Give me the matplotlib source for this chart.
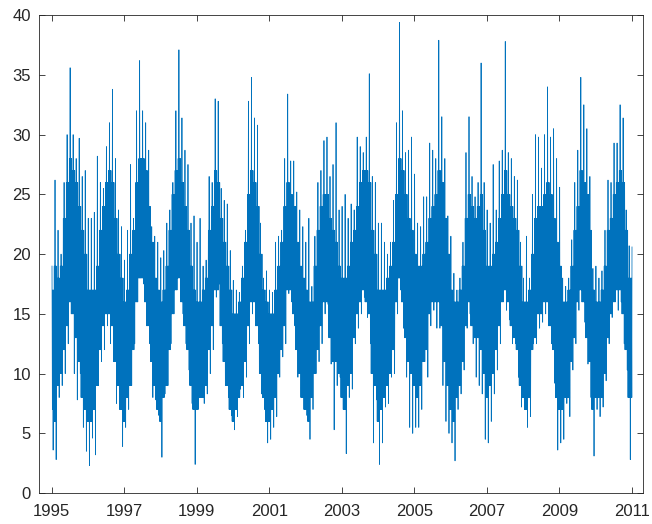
import matplotlib
matplotlib.use("Agg")
import matplotlib.pyplot as plt
import numpy as np


YEARS = list(range(1995, 2011))

# monthly peak values, one row per year (Jan..Dec)
MONTHLY_HIGH = [
    [19.0, 26.2, 22.0, 20.0, 26.0, 30.0, 35.6, 30.0, 28.0, 29.7, 26.5, 27.0],  # 1995
    [23.0, 23.0, 23.5, 28.2, 26.0, 25.5, 29.0, 31.0, 33.8, 28.0, 23.7, 22.3],  # 1996
    [19.5, 22.0, 27.5, 23.0, 32.0, 36.2, 32.0, 31.0, 28.7, 22.3, 21.5, 21.0],  # 1997
    [19.7, 20.3, 22.6, 23.7, 26.0, 32.0, 37.1, 31.4, 28.7, 27.5, 22.6, 23.2],  # 1998
    [21.0, 23.0, 19.0, 19.5, 26.5, 26.0, 33.0, 32.8, 25.5, 24.5, 24.2, 20.3],  # 1999
    [17.8, 17.0, 16.8, 19.0, 22.0, 32.8, 34.8, 31.4, 30.8, 22.6, 18.0, 18.6],  # 2000
    [17.0, 16.8, 21.0, 21.5, 22.0, 28.0, 33.4, 27.8, 27.8, 25.2, 23.7, 22.3],  # 2001
    [21.0, 23.0, 17.3, 21.5, 26.0, 27.0, 29.5, 29.8, 26.5, 27.5, 31.0, 23.7],  # 2002
    [24.0, 25.0, 23.0, 24.2, 23.7, 29.8, 29.0, 28.5, 29.8, 35.1, 26.5, 26.0],  # 2003
    [22.6, 22.6, 21.0, 20.0, 21.0, 24.5, 31.0, 39.4, 32.0, 28.5, 28.7, 29.8],  # 2004
    [26.7, 22.6, 22.3, 24.8, 24.8, 29.3, 28.7, 28.0, 37.9, 31.5, 28.0, 23.2],  # 2005
    [21.5, 18.4, 17.0, 18.0, 21.0, 28.5, 31.5, 26.5, 24.8, 26.0, 36.0, 26.0],  # 2006
    [23.7, 22.6, 27.5, 23.7, 27.8, 28.7, 37.8, 28.5, 28.0, 26.5, 26.2, 21.0],  # 2007
    [18.0, 21.5, 18.0, 25.0, 30.0, 29.8, 27.2, 30.0, 34.0, 29.8, 30.5, 28.0],  # 2008
    [25.6, 18.0, 17.3, 18.0, 21.2, 26.0, 28.7, 34.8, 32.5, 30.5, 26.5, 18.8],  # 2009
    [19.0, 18.0, 18.6, 22.0, 26.2, 26.0, 29.3, 29.3, 32.5, 31.4, 23.7, 20.7],  # 2010
]

# monthly dips
MONTHLY_LOW = [
    [3.6, 2.8, 8.0, 9.0, 10.0, 12.5, 15.0, 10.0, 7.8, 10.0, 5.5, 3.5],  # 1995
    [2.3, 4.6, 3.2, 9.0, 11.0, 12.0, 14.0, 12.5, 11.0, 7.5, 7.0, 3.9],  # 1996
    [5.5, 7.0, 9.0, 12.5, 16.0, 18.0, 17.5, 14.0, 12.5, 8.0, 7.8, 6.5],  # 1997
    [3.0, 8.3, 9.0, 12.5, 15.0, 17.0, 18.6, 15.0, 12.5, 10.3, 7.5, 2.4],  # 1998
    [7.0, 8.0, 7.5, 8.3, 10.0, 12.0, 16.4, 17.5, 12.5, 9.0, 8.0, 6.5],  # 1999
    [5.3, 6.4, 8.7, 8.0, 9.7, 12.5, 15.0, 14.0, 12.5, 8.3, 7.0, 4.2],  # 2000
    [4.5, 5.5, 6.4, 9.7, 11.4, 12.5, 16.7, 16.0, 14.0, 9.7, 8.0, 7.0],  # 2001
    [6.5, 4.5, 7.0, 10.0, 11.0, 12.5, 15.0, 15.8, 10.8, 5.3, 9.0, 9.7],  # 2002
    [7.0, 3.3, 8.0, 8.7, 12.5, 13.8, 15.0, 16.4, 14.7, 12.5, 4.2, 7.8],  # 2003
    [2.4, 4.2, 7.2, 7.5, 9.7, 10.0, 15.0, 17.0, 13.8, 9.7, 5.5, 5.0],  # 2004
    [5.5, 5.5, 7.0, 11.0, 9.7, 14.0, 15.3, 13.8, 13.8, 9.0, 6.0, 5.0],  # 2005
    [4.2, 2.7, 7.0, 8.3, 10.3, 13.8, 15.0, 12.5, 9.7, 9.0, 8.3, 4.5],  # 2006
    [4.2, 6.0, 8.3, 10.3, 12.5, 16.0, 15.3, 14.5, 12.5, 12.5, 9.7, 7.2],  # 2007
    [7.0, 5.5, 6.4, 12.5, 12.5, 13.8, 14.3, 15.0, 14.0, 12.5, 9.2, 3.6],  # 2008
    [4.2, 4.5, 7.5, 6.4, 10.3, 12.5, 15.3, 16.0, 14.3, 10.8, 8.0, 3.1],  # 2009
    [7.0, 6.4, 7.2, 9.4, 12.5, 14.7, 16.0, 15.3, 16.0, 12.5, 10.3, 2.8],  # 2010
]

# upper / lower edge of the dense core of the band
CORE_HIGH = [
    [17, 19, 18, 19, 23, 26, 28, 27, 26, 24, 22, 20],  # 1995
    [17, 17, 17, 19, 22, 24, 26, 27, 26, 23, 20, 18],  # 1996
    [16, 17, 20, 22, 26, 28, 28, 27, 24, 21, 18, 17],  # 1997
    [16, 17, 19, 22, 25, 27, 28, 26, 24, 22, 19, 17],  # 1998
    [16, 16, 17, 18, 22, 24, 27, 26, 23, 21, 19, 17],  # 1999
    [15, 15, 16, 18, 21, 25, 27, 26, 24, 20, 17, 16],  # 2000
    [15, 15, 17, 19, 21, 24, 26, 25, 24, 21, 19, 18],  # 2001
    [17, 16, 16, 19, 22, 24, 25, 25, 23, 22, 21, 19],  # 2002
    [18, 18, 19, 21, 22, 24, 26, 27, 27, 26, 22, 20],  # 2003
    [17, 17, 17, 18, 19, 21, 25, 28, 27, 25, 23, 22],  # 2004
    [20, 19, 19, 20, 21, 23, 24, 25, 27, 26, 23, 20],  # 2005
    [17, 16, 16, 17, 19, 23, 25, 24, 23, 24, 25, 22],  # 2006
    [19, 19, 20, 21, 23, 25, 27, 25, 24, 23, 22, 19],  # 2007
    [16, 16, 17, 20, 23, 24, 24, 25, 26, 25, 23, 21],  # 2008
    [19, 16, 16, 17, 19, 22, 24, 27, 26, 25, 22, 17],  # 2009
    [16, 16, 17, 19, 22, 23, 25, 26, 27, 26, 22, 18],  # 2010
]

CORE_LOW = [
    [7, 6, 9, 10, 12, 14, 16, 15, 13, 11, 8, 7],  # 1995
    [6, 6, 7, 9, 12, 14, 15, 15, 14, 11, 9, 7],  # 1996
    [6, 8, 9, 12, 16, 18, 18, 16, 14, 11, 9, 7],  # 1997
    [6, 8, 9, 12, 15, 17, 18, 16, 14, 12, 9, 7],  # 1998
    [7, 8, 8, 9, 12, 14, 17, 17, 14, 11, 9, 7],  # 1999
    [6, 7, 8, 9, 11, 14, 16, 16, 14, 10, 8, 6],  # 2000
    [6, 7, 8, 10, 12, 14, 17, 17, 15, 12, 10, 8],  # 2001
    [7, 6, 8, 10, 12, 14, 16, 16, 13, 11, 11, 10],  # 2002
    [8, 7, 9, 10, 13, 15, 16, 17, 16, 15, 10, 9],  # 2003
    [6, 7, 8, 9, 10, 12, 16, 18, 16, 13, 11, 10],  # 2004
    [9, 8, 9, 11, 12, 15, 16, 16, 16, 14, 11, 9],  # 2005
    [7, 6, 8, 9, 11, 14, 16, 14, 13, 13, 12, 10],  # 2006
    [8, 9, 10, 12, 14, 16, 17, 16, 14, 13, 12, 9],  # 2007
    [8, 7, 8, 12, 13, 15, 15, 16, 16, 14, 12, 8],  # 2008
    [7, 7, 8, 8, 11, 13, 16, 17, 16, 13, 11, 7],  # 2009
    [8, 8, 8, 10, 13, 15, 16, 17, 17, 15, 12, 8],  # 2010
]

LAST_VALUE = 20.6

XTICKS = [1995, 1997, 1999, 2001, 2003, 2005, 2007, 2009, 2011]
YTICKS = [0, 5, 10, 15, 20, 25, 30, 35, 40]

LINE_COLOR = "#0072BD"
AXIS_COLOR = "#262626"


def build_series():
    hi = np.ravel(MONTHLY_HIGH)
    lo = np.ravel(MONTHLY_LOW)
    c_hi = np.ravel(CORE_HIGH)
    c_lo = np.ravel(CORE_LOW)
    n = len(hi)
    t = []
    v = []
    for i in range(n):
        j = min(i + 1, n - 1)
        # one peak and one dip per month, the core swings lean into the next month
        month_vals = [hi[i], c_lo[i], c_hi[i], lo[i], c_hi[i], c_lo[j], c_hi[j], c_lo[j]]
        start = YEARS[0] + i / 12.0
        for k, val in enumerate(month_vals):
            t.append(start + (k + 0.5) / len(month_vals) / 12.0)
            v.append(val)
    t.append(YEARS[-1] + 1.0)
    v.append(LAST_VALUE)
    return np.array(t), np.array(v)


def main():
    plt.rcParams["font.family"] = ["Liberation Sans", "DejaVu Sans"]
    t, v = build_series()

    fig = plt.figure(figsize=(6.52, 5.24), dpi=100)
    ax = fig.add_axes([0.060, 0.059, 0.926, 0.912])
    ax.plot(t, v, color=LINE_COLOR, linewidth=0.55)

    ax.set_xlim(1994.65, 2011.30)
    ax.set_ylim(0, 40)
    ax.set_xticks(XTICKS)
    ax.set_yticks(YTICKS)
    ax.tick_params(direction="in", top=True, right=True, length=4, width=0.6,
                   colors=AXIS_COLOR, labelsize=12)
    ax.tick_params(axis="x", pad=8)
    ax.tick_params(axis="y", pad=6)
    for spine in ax.spines.values():
        spine.set_color(AXIS_COLOR)
        spine.set_linewidth(0.6)

    fig.savefig("out.png", dpi=100)
    plt.close(fig)


if __name__ == "__main__":
    main()
